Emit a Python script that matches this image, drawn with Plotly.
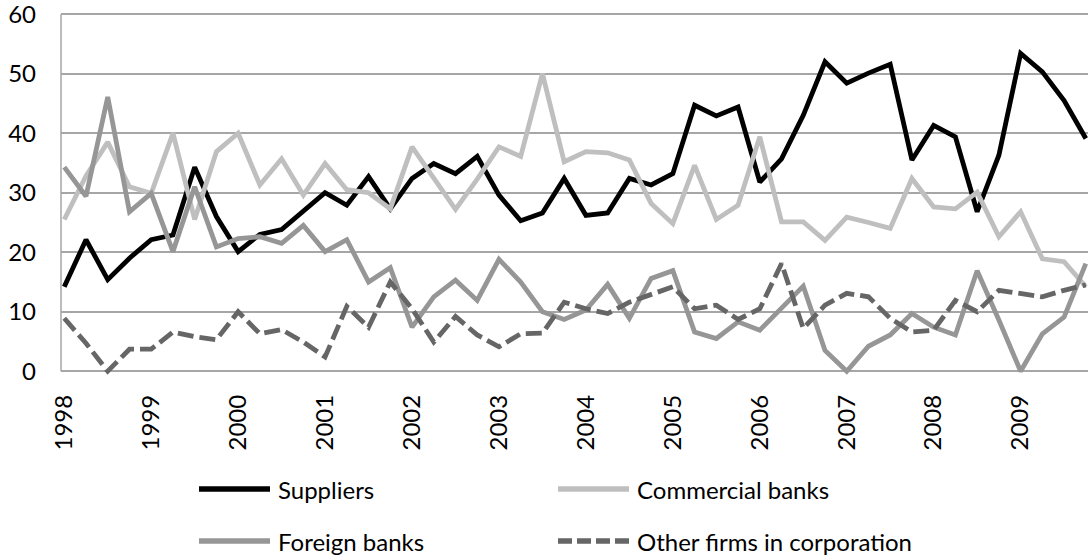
import plotly.graph_objects as go

# Quarterly observations, 1998 Q1 .. 2009 Q4
years = ["1998", "1999", "2000", "2001", "2002", "2003",
         "2004", "2005", "2006", "2007", "2008", "2009"]
quarters_per_year = 4

suppliers = [14.2, 22.1, 15.4, 19.0, 22.1, 22.9, 34.3, 26.0, 20.1, 23.0, 23.8, 26.8,
             30.0, 27.9, 32.7, 27.3, 32.4, 34.9, 33.2, 36.1, 29.6, 25.3, 26.6, 32.4,
             26.2, 26.6, 32.4, 31.3, 33.2, 44.7, 42.9, 44.4, 31.8, 35.7, 43.0, 52.0,
             48.4, 50.1, 51.6, 35.5, 41.3, 39.4, 26.8, 36.3, 53.4, 50.3, 45.5, 39.1]
commercial_banks = [25.5, 32.8, 38.5, 31.0, 29.9, 40.0, 25.5, 36.9, 40.0, 31.3, 35.7, 29.6,
                    34.9, 30.5, 30.0, 27.3, 37.7, 32.5, 27.2, 32.3, 37.7, 36.1, 50.0, 35.2,
                    36.9, 36.7, 35.5, 28.2, 24.8, 34.6, 25.5, 27.9, 39.4, 25.1, 25.1, 22.0,
                    25.9, 25.0, 24.0, 32.4, 27.6, 27.3, 30.1, 22.6, 26.8, 18.9, 18.4, 14.2]
foreign_banks = [34.3, 29.4, 46.1, 26.8, 29.9, 20.1, 31.0, 20.9, 22.3, 22.6, 21.5, 24.5,
                 20.1, 22.1, 15.0, 17.4, 7.4, 12.5, 15.3, 11.9, 18.8, 15.0, 10.0, 8.7,
                 10.3, 14.6, 8.9, 15.6, 16.9, 6.6, 5.5, 8.3, 6.9, 10.5, 14.3, 3.5,
                 0.0, 4.2, 6.1, 9.7, 7.4, 6.1, 16.9, 8.6, 0.0, 6.3, 9.1, 18.1]
other_firms = [8.9, 4.7, 0.0, 3.7, 3.7, 6.6, 5.8, 5.3, 10.0, 6.3, 7.0, 4.9,
               2.4, 10.9, 7.4, 15.0, 10.5, 4.9, 9.2, 6.1, 4.1, 6.3, 6.4, 11.6,
               10.5, 9.7, 11.6, 12.8, 14.2, 10.5, 11.1, 8.7, 10.5, 18.1, 7.2, 11.1,
               13.1, 12.5, 8.9, 6.6, 6.9, 11.9, 10.0, 13.6, 13.1, 12.5, 13.6, 14.5]

series_names = ["Suppliers", "Commercial banks", "Foreign banks", "Other firms in corporation"]
series_values = [suppliers, commercial_banks, foreign_banks, other_firms]
series_colors = ["#000000", "#BFBFBF", "#969696", "#666666"]
series_dash = ["solid", "solid", "solid", "16px,6px"]

y_ticks = [0, 10, 20, 30, 40, 50, 60]

FONT = "Lato"
GRID = "#A6A6A6"
LINE_W = 4.8

W, H = 1088, 558
M_L, M_R, M_T, M_B = 61, 0, 13, 182
plot_w = W - M_L - M_R
plot_h = H - M_T - M_B

x = list(range(len(suppliers)))

fig = go.Figure()
for name, vals, col, dash in zip(series_names, series_values, series_colors, series_dash):
    fig.add_trace(go.Scatter(
        x=x, y=vals, name=name, mode="lines",
        line=dict(color=col, width=LINE_W, dash=dash),
        showlegend=False,
    ))


def px_to_paper(px, py):
    return (px - M_L) / plot_w, (H - M_B - py) / plot_h


# Legend drawn as a 2x2 grid of line samples with labels
legend_slots = [(199, 489), (558, 489), (199, 541), (558, 541)]
sample_len = 71
shapes = []
annotations = []
for (sx, sy), name, col, dash in zip(legend_slots, series_names, series_colors, series_dash):
    x0, y0 = px_to_paper(sx, sy)
    x1, _ = px_to_paper(sx + sample_len, sy)
    shapes.append(dict(type="line", xref="paper", yref="paper",
                       x0=x0, x1=x1, y0=y0, y1=y0,
                       line=dict(color=col, width=5.5, dash=("solid" if dash == "solid" else "14px,5px"))))
    tx, ty = px_to_paper(sx + sample_len + 6, sy + 0)
    annotations.append(dict(xref="paper", yref="paper", x=tx, y=ty,
                            xanchor="left", yanchor="middle", showarrow=False,
                            text=name, font=dict(family=FONT, size=24, color="#000000")))

# vertical axis line from 0 to the top of the scale
shapes.append(dict(type="line", xref="paper", yref="y", x0=0, x1=0,
                   y0=0, y1=y_ticks[-1], line=dict(color=GRID, width=1.5)))

fig.update_layout(
    width=W, height=H,
    margin=dict(l=M_L, r=M_R, t=M_T, b=M_B, pad=0),
    paper_bgcolor="white", plot_bgcolor="white",
    font=dict(family=FONT, color="#000000"),
    shapes=shapes, annotations=annotations,
    xaxis=dict(
        range=[-0.15, 47.1],
        tickmode="array",
        tickvals=[i * quarters_per_year for i in range(len(years))],
        ticktext=years,
        tickangle=-90,
        tickfont=dict(family=FONT, size=24, color="#000000"),
        showgrid=False, zeroline=False, showline=False,
        ticks="", ticklabelstandoff=13,
        ticklabeloverflow="allow",
    ),
    yaxis=dict(
        range=[-0.8, 60.2],
        tickmode="array", tickvals=y_ticks,
        tickfont=dict(family=FONT, size=24, color="#000000"),
        showgrid=True, gridcolor=GRID, gridwidth=1.5,
        zeroline=True, zerolinecolor=GRID, zerolinewidth=1.5,
        showline=False, ticks="", ticklabelstandoff=24,
        ticklabeloverflow="allow",
    ),
)

fig.write_html("out.html")
